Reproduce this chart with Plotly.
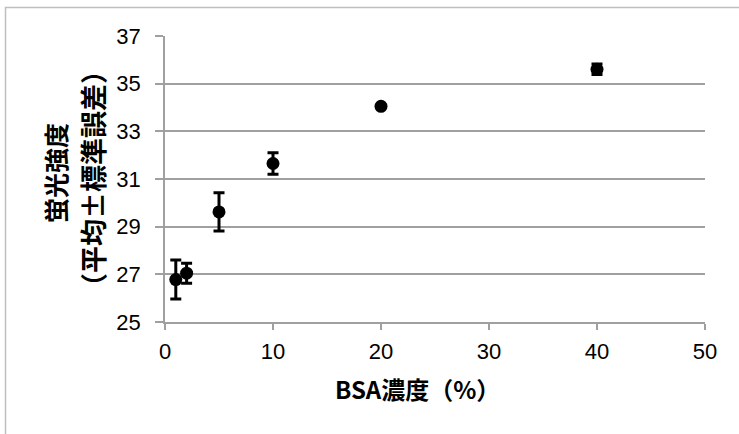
import plotly.graph_objects as go

# Data
bsa_conc = [1, 2, 5, 10, 20, 40]
intensity = [26.78, 27.05, 29.62, 31.65, 34.05, 35.6]
std_err = [0.82, 0.42, 0.8, 0.45, 0.05, 0.22]

x_ticks = [0, 10, 20, 30, 40, 50]
y_ticks = [25, 27, 29, 31, 33, 35, 37]

x_title = "BSA濃度（%）"
y_title_1 = "蛍光強度"
y_title_2 = "（平均±標準誤差）"

W, H = 739, 434
L, R, T, B = 165, 34, 36, 112
pw = W - L - R
ph = H - T - B

def px_to_paper_x(px):
    return (px - L) / pw

def px_to_paper_y(py):
    return (H - B - py) / ph

grid = "#A0A0A0"
tickfont = dict(family="Liberation Sans, Arial, sans-serif", size=22, color="#000000")
cjk = "Noto Sans CJK JP"

fig = go.Figure()
fig.add_trace(go.Scatter(
    x=bsa_conc, y=intensity, mode="markers",
    marker=dict(color="#000000", size=13, symbol="circle"),
    error_y=dict(type="data", array=std_err, visible=True, color="#000000",
                 thickness=3, width=5.5),
    showlegend=False,
))

fig.update_layout(
    width=W, height=H,
    margin=dict(l=L, r=R, t=T, b=B),
    paper_bgcolor="#FFFFFF", plot_bgcolor="#FFFFFF",
    xaxis=dict(range=[0, 50], tickvals=x_ticks, ticktext=[str(v) for v in x_ticks],
               showgrid=False, zeroline=False, showline=True, linecolor=grid, linewidth=1.5,
               ticks="outside", ticklen=6, tickwidth=1.5, tickcolor=grid,
               tickfont=tickfont, ticklabelstandoff=3),
    yaxis=dict(range=[25, 37], tickvals=y_ticks, ticktext=[str(v) for v in y_ticks],
               showgrid=True, gridcolor=grid, gridwidth=1.5, zeroline=False,
               showline=True, linecolor=grid, linewidth=1.5,
               ticks="outside", ticklen=8, tickwidth=1.5, tickcolor=grid,
               tickfont=tickfont, ticklabelstandoff=10),
    annotations=[
        dict(text=x_title, xref="paper", yref="paper",
             x=px_to_paper_x(417), y=px_to_paper_y(389), xanchor="center", yanchor="middle",
             showarrow=False, font=dict(family=cjk, size=24, color="#000000", weight="bold")),
        dict(text=y_title_1, xref="paper", yref="paper", textangle=-90,
             x=px_to_paper_x(55), y=px_to_paper_y(173), xanchor="center", yanchor="middle",
             showarrow=False, font=dict(family=cjk, size=25, color="#000000", weight="bold")),
        dict(text=y_title_2, xref="paper", yref="paper", textangle=-90,
             x=px_to_paper_x(92), y=px_to_paper_y(179), xanchor="center", yanchor="middle",
             showarrow=False, font=dict(family=cjk, size=27, color="#000000", weight="bold")),
    ],
    shapes=[
        dict(type="rect", xref="paper", yref="paper",
             x0=px_to_paper_x(5.5), x1=px_to_paper_x(760),
             y0=px_to_paper_y(460), y1=px_to_paper_y(7.5),
             line=dict(color="#BFBFBF", width=1.5), fillcolor="rgba(0,0,0,0)", layer="below"),
    ],
)

fig.write_html("out.html")
